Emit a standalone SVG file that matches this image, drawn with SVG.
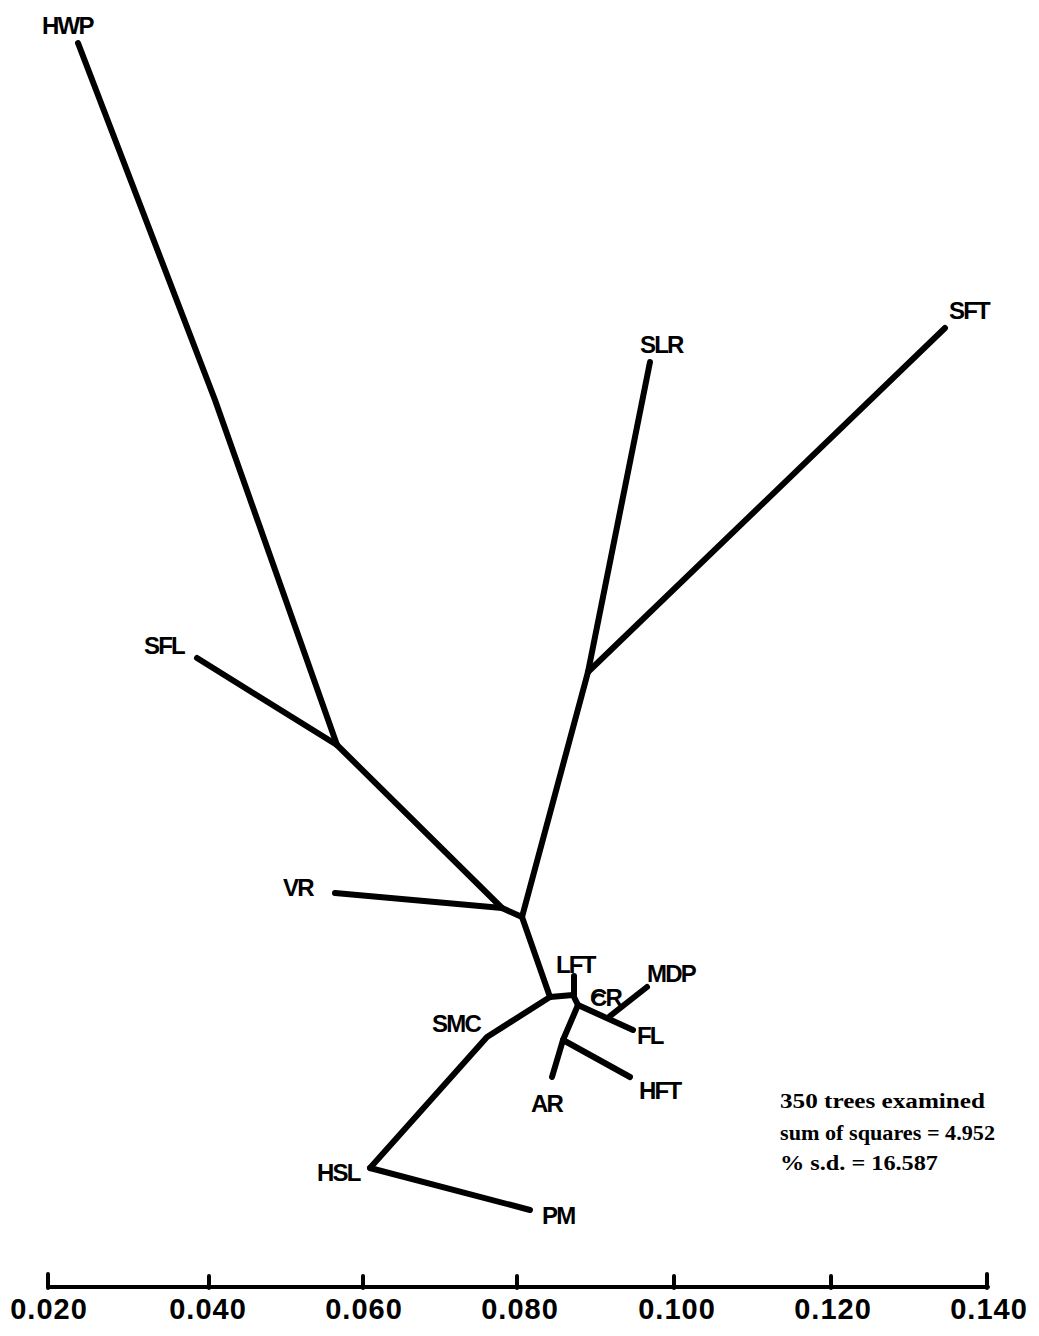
<svg xmlns="http://www.w3.org/2000/svg" width="1039" height="1336" viewBox="0 0 1039 1336">
<style>
.br{stroke:#000;stroke-width:6;fill:none;stroke-linecap:round;stroke-linejoin:round}
.lb{font-family:"Liberation Sans",Arial,sans-serif;font-size:24px;font-weight:bold;fill:#000;letter-spacing:-1.8px}
.ax{font-family:"Liberation Sans",Arial,sans-serif;font-size:29px;font-weight:bold;fill:#000;text-anchor:middle;letter-spacing:1px}
.st{font-family:"Liberation Serif","Times New Roman",serif;font-size:20px;font-weight:bold;fill:#000}
</style>
<rect width="1039" height="1336" fill="#fff"/>
<g id="connectors">
<path class="br" d="M78,43 L215,400 L337,745"/>
<path class="br" d="M197,658 L337,745"/>
<path class="br" d="M337,745 L502,908"/>
<path class="br" d="M335,893 L502,908 L522,917"/>
<path class="br" d="M522,917 L588,672"/>
<path class="br" d="M588,672 L650,362"/>
<path class="br" d="M588,672 L945,328"/>
<path class="br" d="M522,917 L550,997"/>
<path class="br" d="M550,997 L487,1037 L370,1168"/>
<path class="br" d="M370,1168 L530,1210"/>
<path class="br" d="M550,997 L573,995"/>
<path class="br" d="M574,976 L574,995"/>
<path class="br" d="M573,995 L578,1005"/>
<path class="br" d="M578,1005 L633,1030"/>
<path class="br" d="M610,1016 L647,987"/>
<path class="br" d="M593,1000 Q596,992 603,996" style="stroke-width:3"/>
<path class="br" d="M578,1005 L563,1040 L552,1077"/>
<path class="br" d="M563,1040 L630,1077"/>
</g>
<g id="HWP"><text class="lb" x="42" y="34">HWP</text></g>
<g id="SLR"><text class="lb" x="640" y="353">SLR</text></g>
<g id="SFT"><text class="lb" x="949" y="319">SFT</text></g>
<g id="SFL"><text class="lb" x="144" y="654">SFL</text></g>
<g id="VR"><text class="lb" x="283" y="896">VR</text></g>
<g id="LFT"><text class="lb" x="556" y="973">LFT</text></g>
<g id="MDP"><text class="lb" x="647" y="982">MDP</text></g>
<g id="CR"><text class="lb" x="590" y="1006">CR</text></g>
<g id="SMC"><text class="lb" x="432" y="1032">SMC</text></g>
<g id="FL"><text class="lb" x="637" y="1044">FL</text></g>
<g id="HFT"><text class="lb" x="639" y="1099">HFT</text></g>
<g id="AR"><text class="lb" x="531" y="1112">AR</text></g>
<g id="HSL"><text class="lb" x="317" y="1181">HSL</text></g>
<g id="PM"><text class="lb" x="542" y="1224">PM</text></g>
<g id="stats">
<text class="st" x="780" y="1108" textLength="205" lengthAdjust="spacingAndGlyphs">350 trees examined</text>
<text class="st" x="780" y="1140" textLength="215" lengthAdjust="spacingAndGlyphs">sum of squares = 4.952</text>
<text class="st" x="780" y="1170" textLength="158" lengthAdjust="spacingAndGlyphs">% s.d. = 16.587</text>
</g>
<g id="axis">
<path d="M48,1287 L988,1287 M48,1274 L48,1288 M209,1276 L209,1288 M363,1276 L363,1288 M517,1276 L517,1288 M674,1276 L674,1288 M831,1276 L831,1288 M987,1274 L987,1288" stroke="#000" stroke-width="4" fill="none" stroke-linecap="round"/>
<text class="ax" x="49" y="1319">0.020</text>
<text class="ax" x="208" y="1319">0.040</text>
<text class="ax" x="364" y="1319">0.060</text>
<text class="ax" x="520" y="1319">0.080</text>
<text class="ax" x="677" y="1319">0.100</text>
<text class="ax" x="833" y="1319">0.120</text>
<text class="ax" x="989" y="1319">0.140</text>
</g>
</svg>
